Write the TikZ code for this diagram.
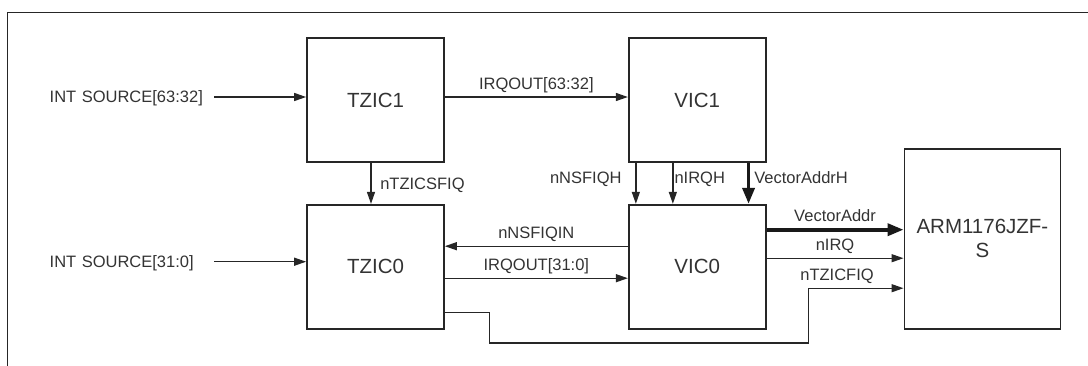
\documentclass[tikz,border=0pt]{standalone}
\usepackage{fontspec}
\setmainfont{Liberation Sans}
\usetikzlibrary{arrows.meta,positioning}

\begin{document}
\begin{tikzpicture}[x=0.5pt,y=-0.5pt,
  box/.style={draw=black!85,line width=0.85pt,minimum width=68.5pt,minimum height=62pt,
    inner sep=0pt,font=\fontsize{10.25}{10}\selectfont,text=black!80},
  lbl/.style={font=\fontsize{8.25}{9}\selectfont,text=black!80,text depth=0pt},
  src/.style={lbl,text width=82pt,align=left,inner xsep=0pt},
  sig/.style={-{Triangle[length=6pt,width=4pt]},draw=black!85,line width=0.65pt},
  bus/.style={-{Triangle[length=8pt,width=6pt]},draw=black!90,line width=1.8pt}
]
\useasboundingbox (0,0) rectangle (1088,365);
% outer frame
\draw[draw=black!85,line width=0.75pt] (1092,12.7) -- (7.7,12.7) -- (7.7,369);

\node[box] (tzic1) at (375.5,100) {TZIC1};
\node[box,right=91.5pt of tzic1] (vic1) {VIC1};
\node[box,below=20.5pt of tzic1] (tzic0) {TZIC0};
\node[box,below=20.5pt of vic1] (vic0) {VIC0};
\node[box,anchor=south west,minimum width=78pt,minimum height=90pt,align=center]
  (arm) at ([xshift=68.5pt]vic0.south east) {ARM1176JZF-\\[1.8pt]S};

\node[src,left=46pt of tzic1.west,yshift=1.5pt] (src1) {INT SOURCE[63:32]};
\node[src,left=46pt of tzic0.west,yshift=2.5pt] (src0) {INT SOURCE[31:0]};

% inputs
\draw[sig] (src1) -- (src1 -| tzic1.west);
\draw[sig] (src0) -- (src0 -| tzic0.west);
\draw[sig] ([yshift=1.5pt]tzic1.east) -- ([yshift=1.5pt]vic1.west)
  node[lbl,midway,above] (irqhi) {IRQOUT[63:32]};
\draw[sig] ([xshift=-2.25pt]tzic1.south) -- ([xshift=-2.25pt]tzic0.north)
  node[lbl,midway,right,xshift=1pt] (sfiq) {nTZICSFIQ};

% VIC1 to VIC0
\draw[sig] ([xshift=4pt]vic1.south west) -- ([xshift=4pt]vic0.north west)
  node[lbl,midway,left,xshift=-3.5pt,yshift=3pt] (nsfiqh) {nNSFIQH};
\draw[sig] ([xshift=22.5pt]vic1.south west) -- ([xshift=22.5pt]vic0.north west)
  node[lbl,midway,right,inner xsep=0.5pt,yshift=3pt] (irqh) {nIRQH};
\draw[bus] ([xshift=-9pt]vic1.south east) -- ([xshift=-9pt]vic0.north east)
  node[lbl,midway,right,inner xsep=2pt,yshift=3pt] (vah) {VectorAddrH};

% TZIC0 <-> VIC0
\draw[sig] ([yshift=10.25pt]vic0.west) -- ([yshift=10.25pt]tzic0.east)
  node[lbl,midway,above] (nsfiqin) {nNSFIQIN};
\draw[sig] ([yshift=-5.75pt]tzic0.east) -- ([yshift=-5.75pt]vic0.west)
  node[lbl,midway,above] (irqlo) {IRQOUT[31:0]};

% VIC0 to core
\draw[bus] ([yshift=18.5pt]vic0.east) -- ([yshift=18.5pt]vic0.east -| arm.west)
  node[lbl,midway,above] (va) {VectorAddr};
\draw[sig] ([yshift=4.25pt]vic0.east) -- ([yshift=4.25pt]vic0.east -| arm.west)
  node[lbl,midway,above] (irq) {nIRQ};
\draw[sig] ([yshift=-22.75pt]tzic0.east) -- ++(44.5,0) |- (808.5,343)
  |- node[lbl,pos=0.65,above] (fiq) {nTZICFIQ} ([yshift=-10.75pt]vic0.east -| arm.west);
\end{tikzpicture}
\end{document}
